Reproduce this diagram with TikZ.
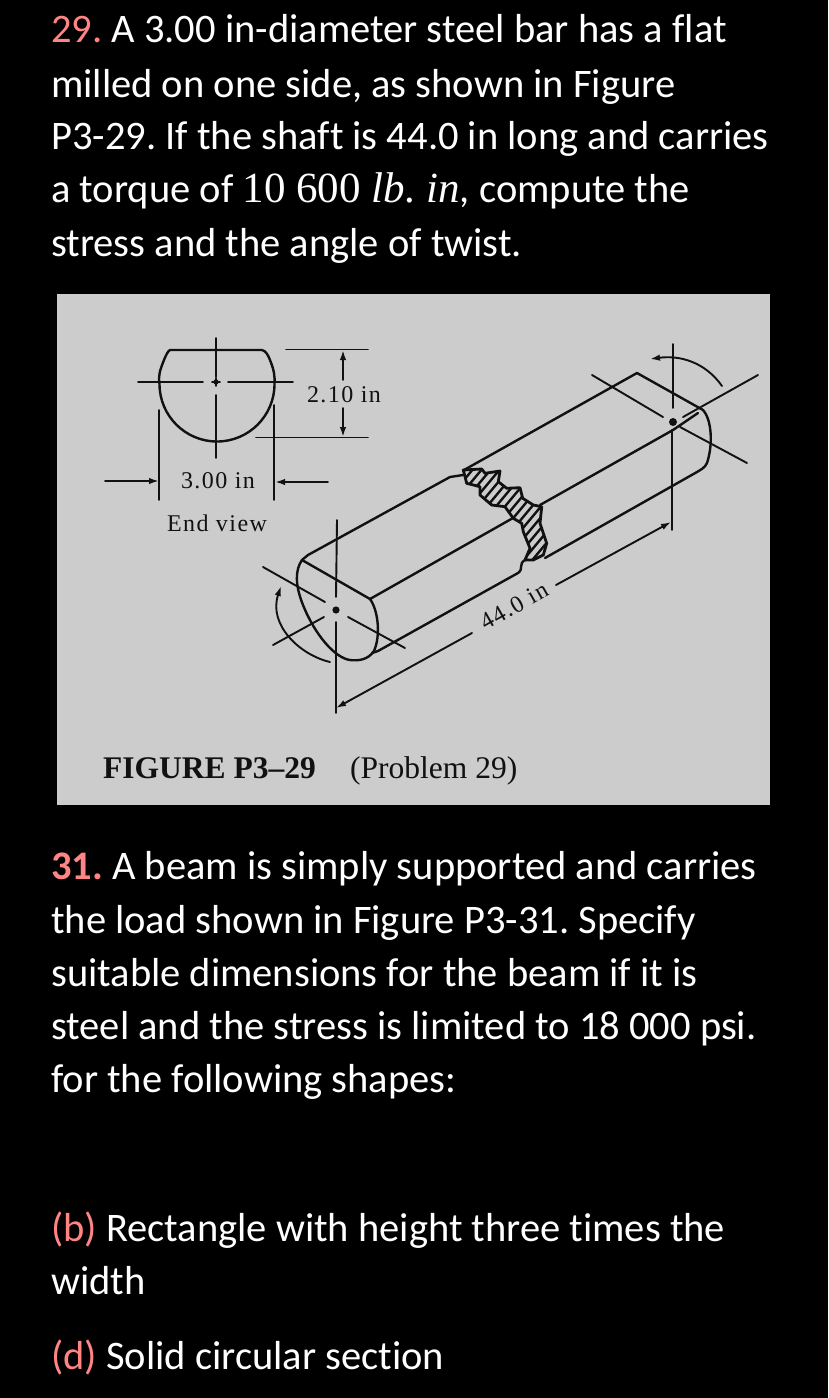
\documentclass[tikz,border=0pt]{standalone}
\usepackage{fontspec}
\usetikzlibrary{arrows.meta}
\setmainfont{Carlito}[RawFeature=-liga]
\newfontfamily\serifa{Liberation Serif}
\newfontfamily\seriflab{Liberation Serif}[LetterSpace=6]
\definecolor{salm}{HTML}{FF8585}
\definecolor{panel}{HTML}{CCCCCC}
\definecolor{ink}{HTML}{111111}
\begin{document}
\begin{tikzpicture}[x=1pt,y=-1pt,
  txt/.style={anchor=base west,inner sep=0,text=white,font=\fontsize{40.5}{44}\selectfont\frenchspacing},
  captxt/.style={anchor=base west,inner sep=0,text=ink,font=\serifa\fontsize{31.5}{34}\selectfont},
  lab/.style={inner sep=0,text=ink,font=\seriflab\fontsize{24}{26}\selectfont},
  thk/.style={draw=ink,line width=2.4pt,line cap=round,line join=round},
  thn/.style={draw=ink,line width=1.9pt,line cap=round},
  tip/.style={-{Latex[length=10pt,width=6.5pt]}}]
\useasboundingbox (0,0) rectangle (828,1398);
\fill[black] (0,0) rectangle (828,1398);
\fill[panel] (57,294) rectangle (770,805);
% text
\node[txt] (l1) at (51,42) {\textcolor{salm}{29.} A 3.00 in-diameter steel bar has a flat};
\node[txt] (l2) at (51,97) {milled on one side, as shown in Figure};
\node[txt] (l3) at (51,149) {P3-29. If the shaft is 44.0 in long and carries};
\node[txt] (l4) at (51,202) {a torque of {\serifa\fontsize{43}{44}\selectfont 10 600 \itshape lb. in}, compute the};
\node[txt] (l5) at (51,256) {stress and the angle of twist.};
\node[txt] (m1) at (51,879) {\textcolor{salm}{\bfseries 31.} A beam is simply supported and carries};
\node[txt] (m2) at (51,933) {the load shown in Figure P3-31. Specify};
\node[txt] (m3) at (51,986) {suitable dimensions for the beam if it is};
\node[txt] (m4) at (51,1039) {steel and the stress is limited to 18 000 psi.};
\node[txt] (m5) at (51,1092) {for the following shapes:};
\node[txt] (b1) at (51,1241) {\textcolor{salm}{(b)} Rectangle with height three times the};
\node[txt] (b2) at (51,1294) {width};
\node[txt] (d1) at (51,1369) {\textcolor{salm}{(d)} Solid circular section};
% caption
\node[captxt] (c1) at (103,778) {\bfseries FIGURE P3–29};
\node[captxt] (c2) at (350,778) {(Problem 29)};
% end view
\draw[thk] (170,350) -- (262,350) .. controls (266,351) and (268,355) .. (270,360)
  .. controls (274,370) and (275,376) .. (274.5,384)
  arc[start angle=0,end angle=180,radius=57.5]
  .. controls (158,376) and (160,370) .. (164,360) .. controls (166,355) and (168,351) .. (170,350);
\draw[thn] (216,338) -- (216,377) (216,395) -- (216,458);
\draw[thn] (138,382) -- (203,382) (228,382) -- (293,382);
\fill[ink] (216,382) circle (2.6);
\draw[thn] (212,382)--(220,382) (216,378)--(216,386);
\draw[thn] (159,410) -- (159,500) (274,405) -- (274,500);
\draw[thn,tip] (105,481) -- (159,481);
\draw[thn,tip] (328,482) -- (275,482);
\draw[thn] (286,349.5) -- (368,349.5) (256,437.5) -- (368,437.5);
\draw[thn,tip] (343,380) -- (343,350);
\draw[thn,tip] (343,408) -- (343,437);
\node[lab] (d210) at (344,395) {2.10 in};
\node[lab] (d300) at (218,481) {3.00 in};
\node[lab] (ev) at (217,523) {End view};
% break hatching
\def\breakpath{(463.3,470) -- (481.7,469) -- (485,473.3) -- (500,471) -- (498.3,481.7) -- (506.7,488.3) -- (520,487.7) -- (522.7,498.3) -- (533.3,505) -- (541.7,506.7) -- (540,523.3) -- (546.7,543.3) -- (543.3,555) -- (533.3,560) -- (525,560) -- (530,548.3) -- (523.3,531.7) -- (521.7,523.3) -- (513.3,518.3) -- (505,506.7) -- (491.7,505) -- (480,495) -- (480,486.7) -- (466.7,483.3) -- cycle}
\begin{scope}
\clip \breakpath;
\foreach \k in {0,...,17}{
  \draw[ink,line width=2.4pt] ({380+\k*9},570) -- ({480+\k*9},450);
}
\end{scope}
\draw[thk,line width=2.8pt] \breakpath;
% bar near part
\draw[thk] (302,560) -- (370,599);
\draw[thk] (370,599) .. controls (378,610) and (381,635) .. (374,651)
  .. controls (368,660) and (358,661) .. (350,660)
  .. controls (335,658) and (315,635) .. (303,605)
  .. controls (295,585) and (295,570) .. (302,560);
\draw[thk] (302,560) -- (308,555) -- (450,477) -- (463,475);
\draw[thk] (370,599) -- (513,518);
\draw[thk] (372,653) -- (378,651) -- (518,573) .. controls (524,569) and (518,564) .. (525,560);
% bar far part
\draw[thk] (464,470) -- (637,373) -- (703,410)
  .. controls (712,420) and (713,445) .. (707,463) .. controls (705,468) and (700,470) .. (697,472) -- (545,558);
\draw[thk] (540,505) -- (673,430) -- (698,413);
% near centre
\draw[thn] (337,520) -- (336,597) (336,622) -- (336,713);
\draw[thn] (263,567) -- (325,602) (348,617) -- (405,648) (273,645) -- (324,617);
\fill[ink] (336,610) circle (3.6);
\draw[thn,tip] (330,662) .. controls (300,655) and (268,625) .. (281,586);
% far centre
\draw[thn] (673,344) -- (673,408) (672,430) -- (672,530);
\draw[thn] (592,375) -- (663,417) (680,427) -- (747,463) (758,375) -- (683,417);
\fill[ink] (673,422) circle (4);
\draw[thn,tip] (722,386) .. controls (705,362) and (680,355) .. (650,359);
% length dimension
\coordinate (dA) at (472,633);
\coordinate (dB) at (556,585);
\draw[thn,tip] (dA) -- (336,708);
\draw[thn,tip] (dB) -- (671,522);
\node[lab,rotate=29.5] (d44) at (514,606) {44.0 in};
\end{tikzpicture}
\end{document}
